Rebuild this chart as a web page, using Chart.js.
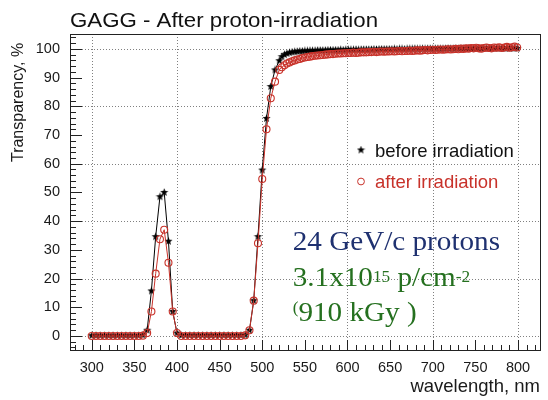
<!DOCTYPE html>
<html><head><meta charset="utf-8">
<script src="https://cdn.jsdelivr.net/npm/chart.js@4.4.1/dist/chart.umd.min.js"></script>
<style>html,body{margin:0;padding:0;background:#fff;}#wrap{width:548px;height:400px;}</style>
</head><body><div id="wrap"><canvas id="c" width="548" height="400"></canvas></div>
<script>
// ---- data ----
const wavelengths = [
  300,305,310,315,320,325,330,335,340,345,350,355,360,365,370,375,380,385,390,395,400,
  405,410,415,420,425,430,435,440,445,450,455,460,465,470,475,480,485,490,495,500,505,510,515,520,
  523,526,529,532,535,538,541,544,547,550,553,556,559,562,565,568,571,574,577,580,
  583,586,589,592,595,598,601,604,607,610,613,616,619,622,625,628,631,634,637,640,
  643,646,649,652,655,658,661,664,667,670,673,676,679,682,685,688,691,694,697,700,
  703,706,709,712,715,718,721,724,727,730,733,736,739,742,745,748,751,754,757,760,
  763,766,769,772,775,778,781,784,787,790,793,796,799
];
const beforeIrradiation = [
  0.1,0.1,0.1,0.1,0.1,0.1,0.1,0.1,0.1,0.1,0.1,0.1,0.3,2.0,15.7,34.6,48.5,50.0,33.0,8.5,1.0,
  0.2,0.2,0.2,0.2,0.2,0.2,0.2,0.2,0.2,0.2,0.2,0.2,0.2,0.2,0.2,0.3,2.0,12.3,34.6,57.8,75.8,86.9,92.7,95.9,
  97.3,98.0,98.4,98.7,98.9,99.0,99.1,99.2,99.2,99.3,99.3,99.4,99.4,99.4,99.5,99.5,99.5,99.5,99.6,99.6,
  99.6,99.6,99.6,99.7,99.6,99.7,99.7,99.7,99.7,99.8,99.7,99.8,99.8,99.8,99.8,99.8,99.9,99.8,99.9,99.9,
  99.9,99.9,99.9,99.9,100.0,99.9,100.0,100.0,99.9,100.0,100.0,100.0,100.1,100.0,100.0,100.1,100.0,100.1,100.1,100.0,
  100.1,100.1,100.0,100.1,100.1,100.2,100.1,100.1,100.2,100.1,100.2,100.1,100.2,100.2,100.1,100.2,100.2,100.3,100.2,100.2,
  100.3,100.2,100.3,100.2,100.3,100.3,100.2,100.3,100.3,100.2,100.3,100.3,100.2
];
const afterIrradiation = [
  0.0,0.0,0.0,0.0,0.0,0.0,0.0,0.0,0.0,0.0,0.0,0.0,0.1,1.0,8.5,21.7,33.7,37.0,25.5,8.5,1.0,
  0.0,0.0,0.0,0.0,0.0,0.0,0.0,0.0,0.0,0.0,0.0,0.0,0.0,0.0,0.0,0.2,2.0,12.3,32.3,54.7,72.0,82.8,88.6,92.7,
  93.6,94.3,94.9,95.3,95.7,96.0,96.3,96.5,96.8,97.0,97.2,97.3,97.5,97.6,97.7,97.8,97.9,98.0,98.1,98.2,
  98.2,98.3,98.4,98.4,98.5,98.5,98.6,98.6,98.7,98.6,98.7,98.8,98.8,98.8,98.9,98.9,99.0,98.9,99.0,99.1,
  99.0,99.1,99.1,99.2,99.1,99.2,99.3,99.2,99.3,99.3,99.4,99.3,99.4,99.5,99.4,99.5,99.6,99.5,99.6,99.7,
  99.6,99.7,99.8,99.7,99.8,99.9,99.8,99.9,100.0,99.9,100.1,100.0,100.2,100.1,100.3,100.2,100.4,100.2,100.1,100.3,
  100.5,100.3,100.2,100.5,100.4,100.6,100.3,100.5,100.7,100.4,100.6,100.8,100.5
];
const xTickValues = [300,350,400,450,500,550,600,650,700,750,800];
const yTickValues = [0,10,20,30,40,50,60,70,80,90,100];
const seriesLabels = ['before irradiation','after irradiation'];
const chartTitle = 'GAGG - After proton-irradiation';
const xAxisTitle = 'wavelength, nm';
const yAxisTitle = 'Transparency, %';

const RED = '#c8322a';
const NAVY = '#1f3170';
const GREEN = '#25701f';
const SANS = '"Liberation Sans", Arial, sans-serif';
const SERIF = '"Liberation Serif", "Times New Roman", serif';

function makeStar(size, color){
  const c = document.createElement('canvas');
  c.width = size; c.height = size;
  const g = c.getContext('2d');
  const cx = size/2, cy = size/2, R = size/2 - 0.2, r = R*0.42;
  g.beginPath();
  for (let k = 0; k < 10; k++){
    const a = -Math.PI/2 + k*Math.PI/5;
    const rr = (k % 2) ? r : R;
    g.lineTo(cx + rr*Math.cos(a), cy + rr*Math.sin(a));
  }
  g.closePath();
  g.fillStyle = color; g.fill();
  return c;
}
const starImg = makeStar(9, '#000');

const decor = {
  id: 'decor',
  beforeDatasetsDraw(chart){
    const {ctx, chartArea: a, scales: {x, y}} = chart;
    ctx.save();
    ctx.strokeStyle = '#808080';
    ctx.lineWidth = 1;
    ctx.setLineDash([1, 2]);
    xTickValues.filter(v => v % 100 === 0).forEach(v => {
      const px = Math.round(x.getPixelForValue(v)) + 0.5;
      ctx.beginPath(); ctx.moveTo(px, a.top); ctx.lineTo(px, a.bottom); ctx.stroke();
    });
    yTickValues.filter(v => v % 20 === 0).forEach(v => {
      const py = Math.round(y.getPixelForValue(v)) + 0.5;
      ctx.beginPath(); ctx.moveTo(a.left, py); ctx.lineTo(a.right, py); ctx.stroke();
    });
    ctx.restore();
  },
  afterDatasetsDraw(chart){
    const {ctx, chartArea: a, scales: {x, y}} = chart;
    ctx.save();
    ctx.strokeStyle = '#222';
    ctx.lineWidth = 1;
    ctx.setLineDash([]);
    ctx.strokeRect(Math.round(a.left)+0.5, Math.round(a.top)+0.5, Math.round(a.right - a.left), Math.round(a.bottom - a.top));
    // inner ticks (ROOT style)
    ctx.beginPath();
    for (let v = 280; v <= 820; v += 10){
      const px = Math.round(x.getPixelForValue(v)) + 0.5;
      const len = (v % 50 === 0) ? 10 : 5;
      ctx.moveTo(px, a.bottom); ctx.lineTo(px, a.bottom - len);
    }
    for (let v = -4; v <= 104; v += 2){
      const py = Math.round(y.getPixelForValue(v)) + 0.5;
      const len = (v % 10 === 0) ? 12 : 6;
      ctx.moveTo(a.left, py); ctx.lineTo(a.left + len, py);
    }
    ctx.stroke();
    ctx.restore();
  },
  afterDraw(chart){
    const {ctx} = chart;
    ctx.save();
    // title
    ctx.fillStyle = '#111';
    ctx.textBaseline = 'alphabetic';
    ctx.textAlign = 'left';
    ctx.save(); ctx.translate(70, 27); ctx.scale(1.06, 1);
    ctx.font = '21px ' + SANS; ctx.fillText(chartTitle, 0, 0); ctx.restore();
    // legend
    ctx.drawImage(starImg, 361 - 4.5, 150 - 4.5);
    ctx.beginPath(); ctx.arc(361, 181.5, 3.4, 0, Math.PI*2);
    ctx.strokeStyle = RED; ctx.lineWidth = 1; ctx.stroke();
    ctx.font = '18.5px ' + SANS;
    ctx.textBaseline = 'middle';
    ctx.fillStyle = '#111'; ctx.fillText(seriesLabels[0], 375, 151.5);
    ctx.fillStyle = RED; ctx.fillText(seriesLabels[1], 375, 182.5);
    // notes
    ctx.textBaseline = 'alphabetic';
    const seg = (parts, x0, yBase, color) => {
      ctx.save(); ctx.translate(x0, yBase); ctx.scale(1.08, 1);
      ctx.fillStyle = color;
      let cx = 0;
      parts.forEach(p => {
        ctx.font = p.size + 'px ' + SERIF;
        ctx.fillText(p.t, cx, -(p.rise || 0));
        cx += ctx.measureText(p.t).width;
      });
      ctx.restore();
    };
    seg([{t: '24 GeV/c protons', size: 27}], 292.7, 250, NAVY);
    seg([{t: '3.1x10', size: 27}, {t: '15', size: 16, rise: 4}, {t: ' p/cm', size: 27}, {t: '-2', size: 16, rise: 4}], 292.7, 286, GREEN);
    seg([{t: '(', size: 16, rise: 8}, {t: '910 kGy )', size: 27}], 292.7, 321, GREEN);
    ctx.restore();
  }
};

const toXY = vals => wavelengths.map((w, i) => ({x: w, y: vals[i]}));

new Chart(document.getElementById('c'), {
  type: 'line',
  data: {
    datasets: [
      {
        label: seriesLabels[1], data: toXY(afterIrradiation), order: 0,
        borderColor: RED, borderWidth: 1, tension: 0,
        pointStyle: 'circle', pointRadius: 3.5, pointBorderWidth: 1.1,
        pointBorderColor: RED, pointBackgroundColor: 'rgba(0,0,0,0)'
      },
      {
        label: seriesLabels[0], data: toXY(beforeIrradiation), order: 1,
        borderColor: '#000', borderWidth: 1, tension: 0,
        pointStyle: starImg, pointRadius: 4.5
      }
    ]
  },
  options: {
    responsive: false, animation: false, devicePixelRatio: 1,
    layout: {padding: {top: 34, right: 8, left: 0, bottom: 0}},
    plugins: {legend: {display: false}, tooltip: {enabled: false}, title: {display: false}},
    scales: {
      x: {
        type: 'linear', min: 274.5, max: 825.8,
        afterBuildTicks: s => { s.ticks = xTickValues.map(v => ({value: v})); },
        afterFit: s => { s.height = 50; },
        grid: {display: false, drawTicks: false}, border: {display: false},
        ticks: {padding: 9, color: '#1a1a1a', autoSkip: false, maxRotation: 0, font: {family: SANS, size: 14.5}},
        title: {display: true, text: xAxisTitle, align: 'end', color: '#1a1a1a', font: {family: SANS, size: 18.5}, padding: {top: 0, bottom: 2}}
      },
      y: {
        type: 'linear', min: -4.9, max: 105.2,
        afterBuildTicks: s => { s.ticks = yTickValues.map(v => ({value: v})); },
        afterFit: s => { s.width = 70; },
        grid: {display: false, drawTicks: false}, border: {display: false},
        ticks: {padding: 10, color: '#1a1a1a', autoSkip: false, font: {family: SANS, size: 14.5}},
        title: {display: true, text: yAxisTitle + '  ', align: 'end', color: '#1a1a1a', font: {family: SANS, size: 16}, padding: {top: 9, bottom: 0}}
      }
    }
  },
  plugins: [decor]
});
</script></body></html>
